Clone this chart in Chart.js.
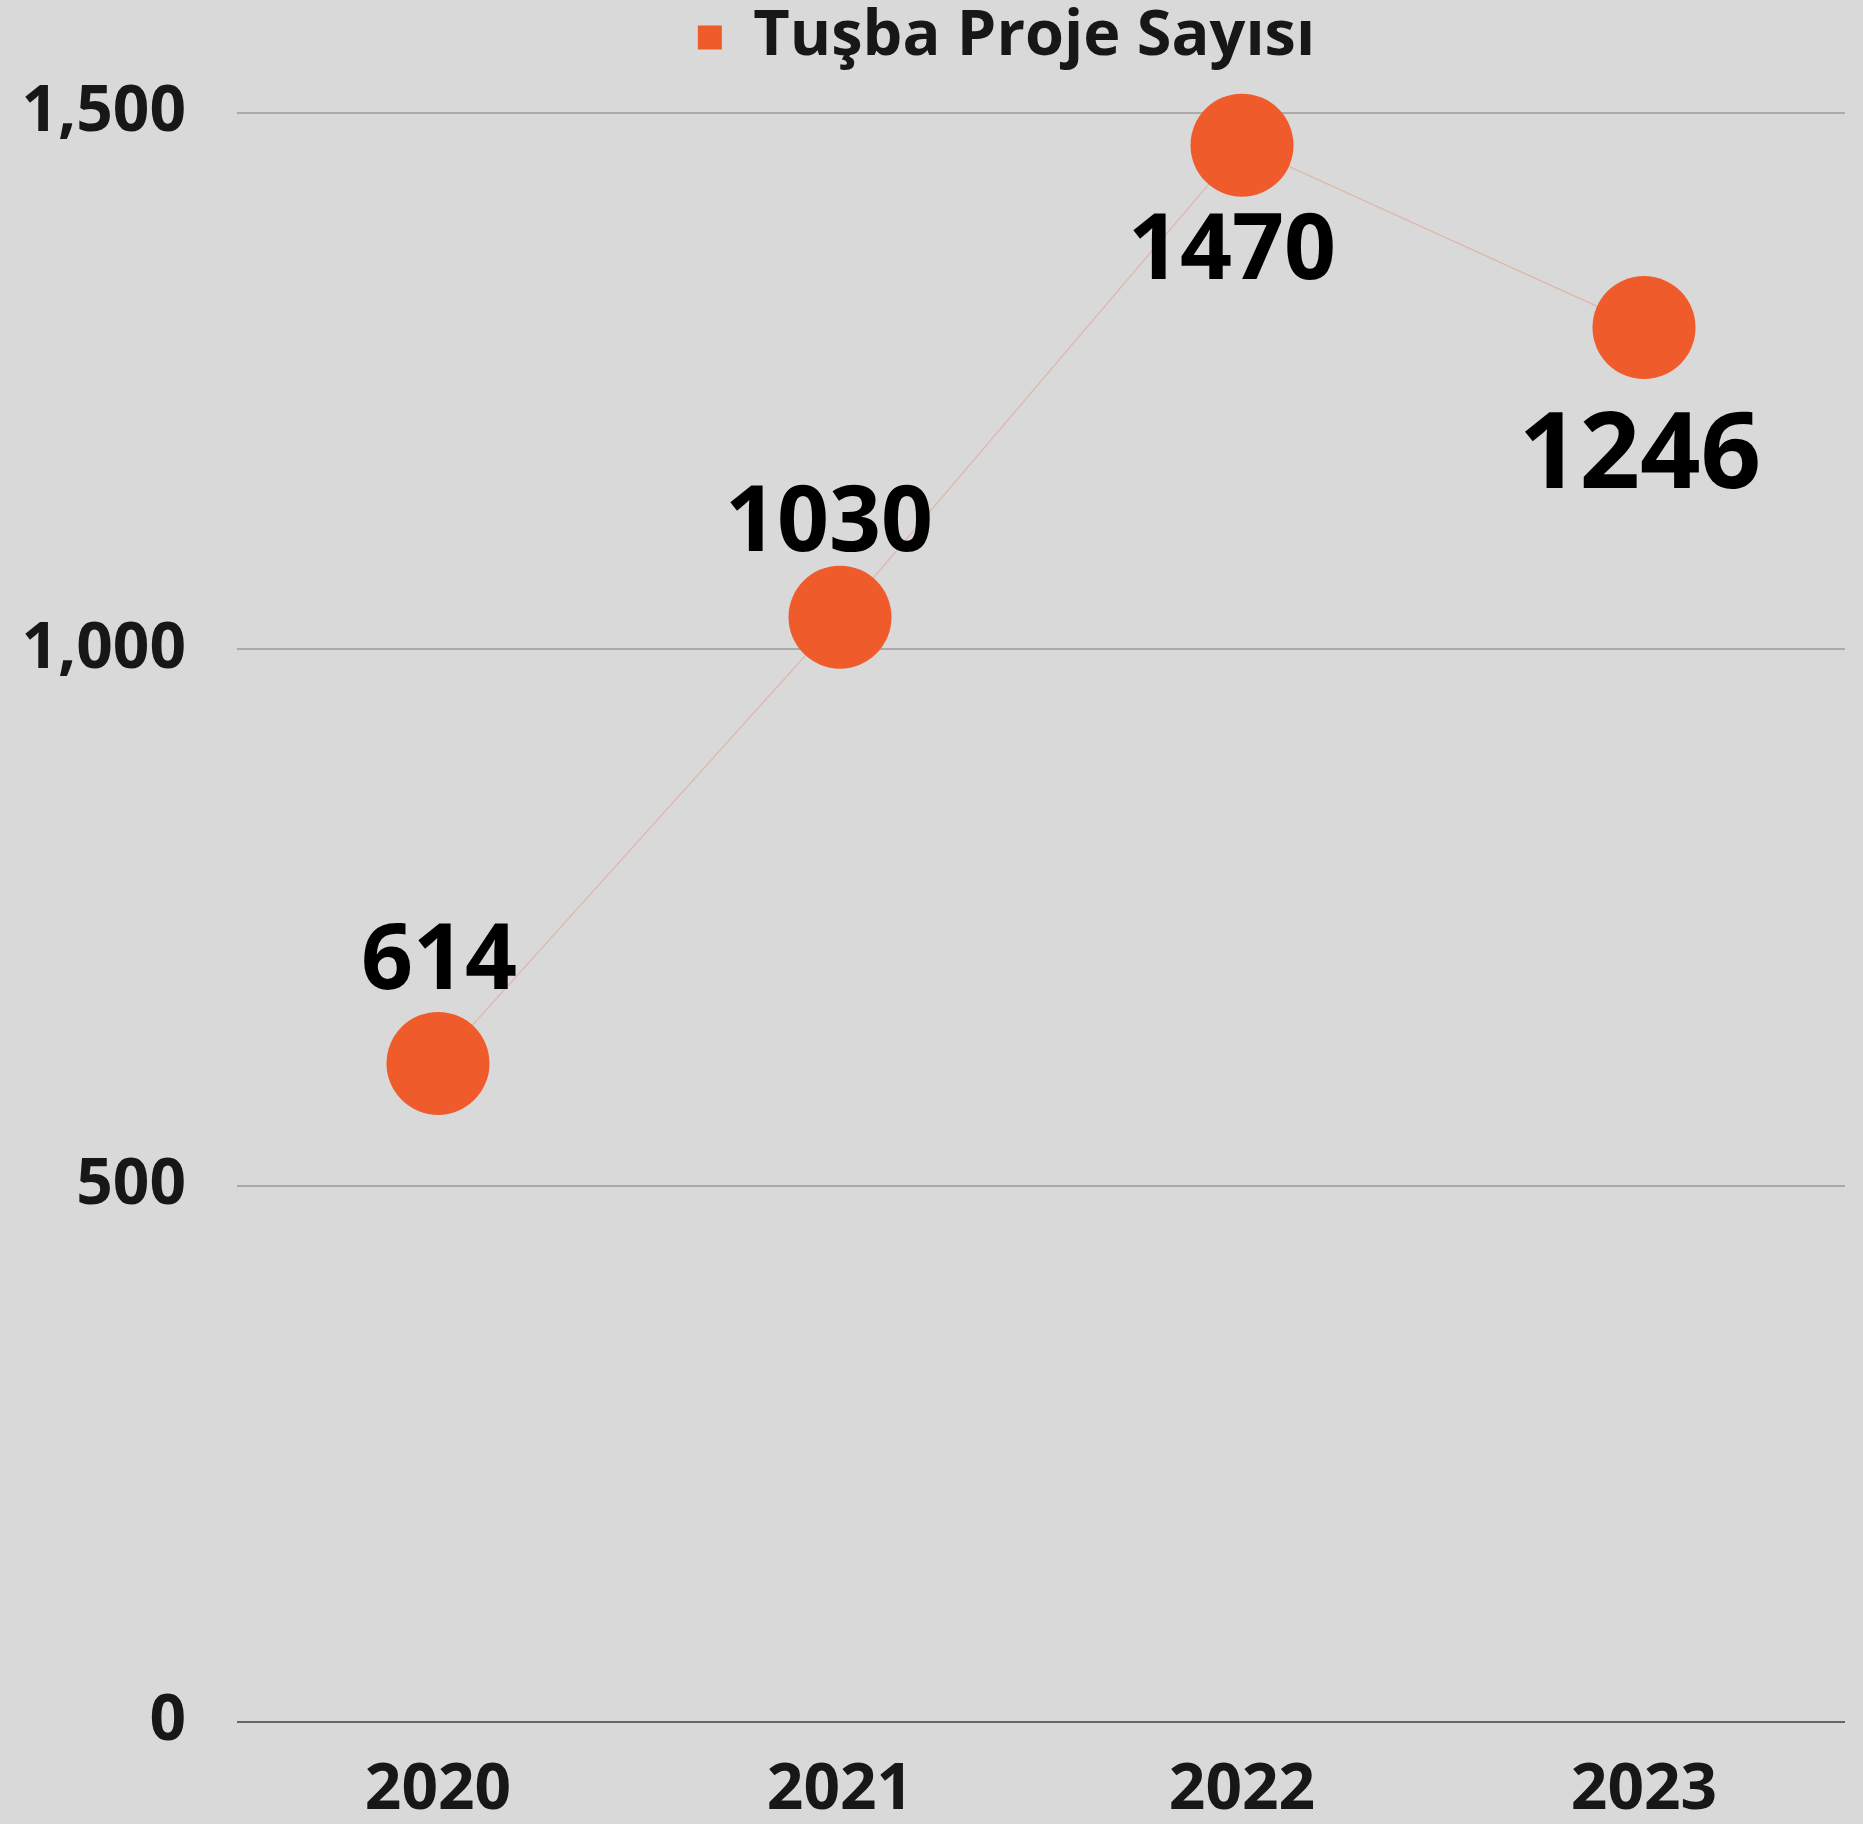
<!DOCTYPE html>
<html>
<head>
<meta charset="utf-8">
<title>Tuşba Proje Sayısı</title>
<script src="https://cdn.jsdelivr.net/npm/chart.js@4"></script>
<style>
  html, body { margin:0; padding:0; background:#d9d9d9; overflow:hidden; }
  #wrap { width:1863px; height:1824px; position:relative; }
  canvas { display:block; }
</style>
</head>
<body>
<div id="wrap"><canvas id="chart"></canvas></div>
<script>
// data
const years = ['2020', '2021', '2022', '2023'];
const projeSayisi = [614, 1030, 1470, 1300];
const etiketler = ['614', '1030', '1470', '1246'];
const yTicks = [0, 500, 1000, 1500];

const ORANGE = '#EF5B2A';
const INK = '#171717';

// value labels drawn next to each point
const valueLabels = {
  id: 'valueLabels',
  afterDatasetsDraw(chart, args, opts){
    const meta = chart.getDatasetMeta(0);
    const ctx = chart.ctx;
    ctx.save();
    ctx.fillStyle = '#000';
    ctx.textAlign = 'center';
    ctx.textBaseline = 'middle';
    meta.data.forEach((pt, i) => {
      ctx.font = 'bold ' + opts.sizes[i] + 'px "Open Sans"';
      ctx.fillText(etiketler[i], pt.x + opts.dx[i], pt.y + opts.dy[i]);
    });
    ctx.restore();
  }
};

// the legend in the reference sits a bit right of the page centre and close to the top
const legendShift = {
  id: 'legendShift',
  afterLayout(chart, args, opts){
    const lg = chart.legend;
    if(!lg) return;
    const h = lg.bottom - lg.top;
    lg.left = opts.left;
    lg.right = chart.chartArea.right;
    lg.top = opts.top;
    lg.bottom = opts.top + h;
  }
};

new Chart(document.getElementById('chart'), {
  type: 'line',
  data: {
    labels: years,
    datasets: [{
      label: 'Tuşba Proje Sayısı',
      data: projeSayisi,
      borderColor: 'rgba(239,91,43,0.28)',
      backgroundColor: ORANGE,
      borderWidth: 1.3,
      pointRadius: 51.5,
      pointHoverRadius: 51.5,
      pointBorderWidth: 0,
      pointBackgroundColor: ORANGE,
      tension: 0,
      clip: false
    }]
  },
  options: {
    responsive: true,
    maintainAspectRatio: false,
    animation: false,
    locale: 'en-US',
    layout: { autoPadding: false, padding: { left: 0, right: 18, top: 40, bottom: 0 } },
    plugins: {
      legend: {
        position: 'top',
        labels: {
          color: INK,
          font: { family: 'Open Sans', size: 63, weight: 'bold' },
          boxWidth: 24, boxHeight: 24,
          padding: 0,
          useBorderRadius: true, borderRadius: 3,
          generateLabels: chart => [{
            text: chart.data.datasets[0].label,
            fillStyle: ORANGE, strokeStyle: ORANGE, lineWidth: 0,
            fontColor: INK, datasetIndex: 0
          }]
        }
      },
      legendShift: { left: 168, top: 6 },
      tooltip: { enabled: false },
      valueLabels: {
        dx: [1, -11, -10, -4],
        dy: [-100, -92, 108, 130],
        sizes: [91, 91, 91, 106]
      }
    },
    scales: {
      x: {
        offset: true,
        afterFit: s => { s.height = 102; },
        grid: { display: false, drawTicks: false },
        border: { display: false },
        ticks: {
          color: INK, padding: 30,
          font: { family: 'Open Sans', size: 64, weight: 'bold' }
        }
      },
      y: {
        min: 0, max: 1500,
        afterBuildTicks: s => { s.ticks = yTicks.map(v => ({ value: v })); },
        afterFit: s => { s.width = 237; },
        border: { display: false },
        grid: {
          drawTicks: false,
          lineWidth: 2,
          color: c => c.tick && c.tick.value === 0 ? '#666666' : '#aaaaaa'
        },
        ticks: {
          color: INK, padding: 51,
          font: { family: 'Open Sans', size: 64, weight: 'bold' }
        }
      }
    }
  },
  plugins: [valueLabels, legendShift]
});
</script>
</body>
</html>
